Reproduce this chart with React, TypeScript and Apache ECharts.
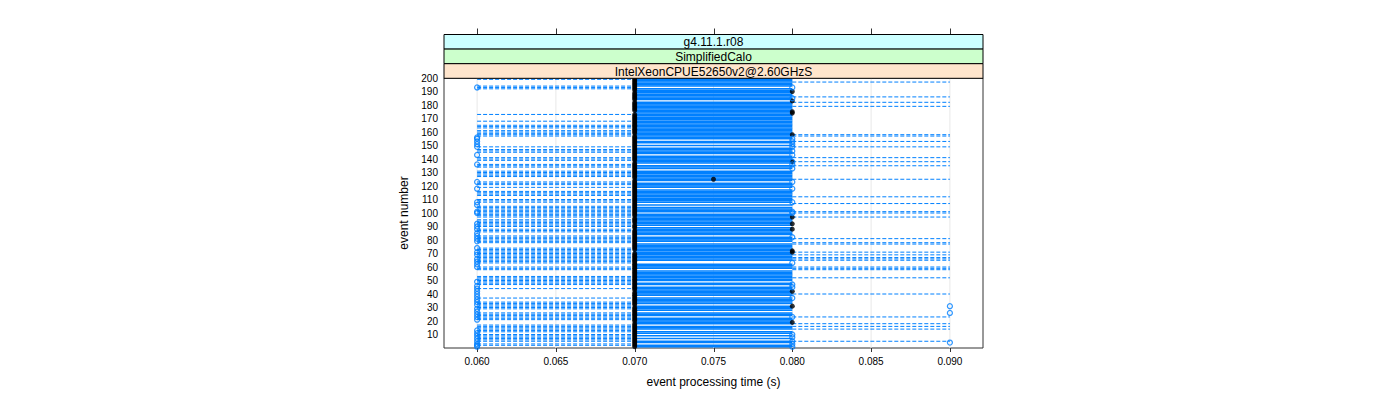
import React, { useEffect, useRef } from "react";
import * as echarts from "echarts";

// ---- data ----
const stripLabels = ["g4.11.1.r08", "SimplifiedCalo", "IntelXeonCPUE52650v2@2.60GHzS"];
const stripColors = ["#ccffff", "#ccffcc", "#ffe5cc"];
const xTicks = [0.06, 0.065, 0.07, 0.075, 0.08, 0.085, 0.09];
const yTicks = [10, 20, 30, 40, 50, 60, 70, 80, 90, 100, 110, 120, 130, 140, 150, 160, 170, 180, 190, 200];
const xMin = 0.0579;
const xMax = 0.0921;
const yMin = 0;
const yMax = 200;

// filled black points, event 1..200
const blackTime = [
  0.07, 0.07, 0.07, 0.07, 0.07, 0.07, 0.07, 0.07, 0.07, 0.07,
  0.07, 0.07, 0.07, 0.07, 0.07, 0.07, 0.07, 0.07, 0.08, 0.07,
  0.07, 0.07, 0.07, 0.07, 0.07, 0.07, 0.07, 0.07, 0.07, 0.07,
  0.08, 0.07, 0.07, 0.07, 0.07, 0.07, 0.07, 0.07, 0.07, 0.07,
  0.07, 0.08, 0.07, 0.07, 0.07, 0.07, 0.07, 0.07, 0.07, 0.07,
  0.07, 0.07, 0.07, 0.07, 0.07, 0.07, 0.07, 0.07, 0.07, 0.07,
  0.07, 0.07, 0.07, 0.07, 0.07, 0.07, 0.07, 0.07, 0.07, 0.07,
  0.08, 0.08, 0.07, 0.07, 0.07, 0.07, 0.07, 0.07, 0.07, 0.07,
  0.07, 0.07, 0.07, 0.07, 0.07, 0.07, 0.07, 0.08, 0.07, 0.07,
  0.07, 0.08, 0.07, 0.07, 0.07, 0.07, 0.08, 0.07, 0.07, 0.07,
  0.07, 0.07, 0.07, 0.07, 0.07, 0.07, 0.07, 0.07, 0.07, 0.07,
  0.07, 0.07, 0.07, 0.07, 0.07, 0.07, 0.07, 0.07, 0.07, 0.07,
  0.07, 0.07, 0.07, 0.07, 0.075, 0.07, 0.07, 0.07, 0.07, 0.07,
  0.07, 0.07, 0.07, 0.07, 0.07, 0.07, 0.07, 0.08, 0.07, 0.07,
  0.07, 0.07, 0.07, 0.07, 0.07, 0.07, 0.07, 0.07, 0.07, 0.07,
  0.07, 0.07, 0.07, 0.07, 0.07, 0.07, 0.07, 0.08, 0.07, 0.07,
  0.07, 0.07, 0.07, 0.07, 0.07, 0.07, 0.07, 0.07, 0.07, 0.07,
  0.07, 0.07, 0.07, 0.08, 0.08, 0.07, 0.07, 0.07, 0.07, 0.07,
  0.07, 0.07, 0.08, 0.07, 0.07, 0.07, 0.07, 0.07, 0.07, 0.08,
  0.07, 0.07, 0.07, 0.07, 0.07, 0.07, 0.07, 0.07, 0.07, 0.07,
];

// open blue circles (event numbers) at each time value
const circle060Events = [1, 2, 3, 5, 7, 9, 11, 13, 21, 23, 25, 27, 29, 32, 34, 36, 38, 40, 42, 44, 46, 49,
  60, 62, 64, 66, 69, 71, 74, 79, 81, 83, 85, 88, 90, 92, 100, 101, 106, 108, 118, 123, 136, 143,
  149, 151, 153, 155, 156, 193];
const circle080Events = [1, 3, 5, 8, 10, 23, 37, 45, 47, 63, 82, 100, 101, 108, 118, 123, 133, 136, 138,
  143, 146, 149, 151, 153, 155, 185, 193];
const circle090Events = [4, 26, 31];

// dashed segments 0.060 - 0.070
const leftDashEvents = [2, 3, 5, 6, 7, 8, 9, 10, 12, 13, 14, 15, 16, 17, 21, 22, 23, 24, 25, 26, 29, 30, 31,
  32, 33, 34, 37, 44, 47, 48, 49, 50, 51, 52, 53, 58, 59, 60, 63, 64, 65, 66, 67, 68, 69, 70, 71, 72, 73,
  74, 78, 79, 80, 81, 82, 83, 86, 87, 88, 90, 91, 92, 93, 94, 95, 97, 98, 99, 100, 101, 102, 103, 104, 105,
  108, 109, 110, 113, 114, 115, 116, 119, 121, 122, 123, 127, 128, 129, 130, 131, 134, 135, 136, 139, 140,
  141, 145, 146, 147, 149, 157, 158, 159, 160, 161, 163, 164, 165, 168, 173, 192, 193, 194, 199];
const leftDashRange = [0.06, 0.07];

// dashed segments 0.080 - 0.090
const rightDashEvents = [5, 14, 16, 18, 23, 40, 52, 58, 59, 60, 65, 66, 67, 69, 71, 77, 78, 81, 97, 100, 101,
  107, 112, 125, 135, 138, 141, 149, 153, 157, 158, 179, 182, 186, 197];
const rightDashRange = [0.08, 0.09];

// events without the solid 0.070 - 0.080 segment
const noSolidEvents = [3, 6, 8, 10, 13, 17, 23, 27, 32, 38, 46, 49, 58, 63, 64, 78, 83, 90,
  100, 105, 107, 118, 123, 132, 136, 143, 149, 151, 154, 183, 193];
const solidRange = [0.07, 0.08];

const BLUE = "#0080ff";
const FONT = "Liberation Sans";

export default function App() {
  const ref = useRef<HTMLDivElement>(null);

  useEffect(() => {
    if (!ref.current) return;
    const chart = echarts.init(ref.current, undefined, { renderer: "svg" });

    const allEvents = blackTime.map((_, i) => i + 1);
    const seg = (events: number[], r: number[]) => events.map((e) => [r[0], r[1], e]);
    const leftData = seg(leftDashEvents, leftDashRange);
    const rightData = seg(rightDashEvents, rightDashRange);
    const solidData = seg(allEvents.filter((e) => noSolidEvents.indexOf(e) < 0), solidRange);
    const gridData = xTicks.map((t) => [t, t, yMin, yMax]);

    const L = 444, R = 983;
    const panelTop = 78;
    const stripTop = 34.5, stripH = 14.6;

    const segRender = (dash: number[] | null, w: number) => (params: any, api: any) => {
      const p1 = api.coord([api.value(0), api.value(2)]);
      const p2 = api.coord([api.value(1), api.value(2)]);
      return {
        type: "line",
        shape: { x1: p1[0], y1: p1[1], x2: p2[0], y2: p2[1] },
        style: { stroke: BLUE, lineWidth: w, lineDash: dash || undefined, fill: null },
      };
    };

    const graphics: any[] = [];
    stripLabels.forEach((lab, i) => {
      const y = stripTop + i * stripH;
      graphics.push({
        type: "rect",
        shape: { x: L, y, width: R - L, height: stripH },
        style: { fill: stripColors[i], stroke: "#000", lineWidth: 1 },
        z: 10,
      });
      graphics.push({
        type: "text",
        x: (L + R) / 2,
        y: y + stripH / 2 + 0.5,
        style: { text: lab, fill: "#000", font: `12px ${FONT}`, align: "center", verticalAlign: "middle" },
        z: 11,
      });
    });

    chart.setOption({
      animation: false,
      textStyle: { fontFamily: FONT },
      graphic: graphics,
      grid: [
        { left: L, right: 1400 - R, top: panelTop, bottom: 52, show: true, borderColor: "#333", borderWidth: 1, backgroundColor: "#fff" },
      ],
      xAxis: [
        {
          type: "value",
          min: xMin,
          max: xMax,
          name: "event processing time (s)",
          nameLocation: "middle",
          nameGap: 28,
          nameTextStyle: { fontSize: 12, color: "#000", fontFamily: FONT },
          axisLine: { show: false },
          axisTick: { show: false },
          axisLabel: {
            customValues: xTicks,
            formatter: (v: number) => v.toFixed(3),
            fontSize: 10,
            color: "#000",
            margin: 8,
            fontFamily: FONT,
          },
          splitLine: { show: false },
        },
      ],
      yAxis: [
        {
          type: "value",
          min: yMin,
          max: yMax,
          interval: 10,
          name: "event number",
          nameLocation: "middle",
          nameRotate: 90,
          nameGap: 34,
          nameTextStyle: { fontSize: 12, color: "#000", fontFamily: FONT },
          axisLine: { show: false },
          axisTick: { show: false },
          axisLabel: {
            customValues: yTicks,
            fontSize: 10,
            color: "#000",
            margin: 6,
            fontFamily: FONT,
          },
          splitLine: { show: false },
        },
      ],
      series: [
        {
          type: "custom",
          data: gridData,
          encode: { x: [0, 1], y: [2, 3] },
          renderItem: (params: any, api: any) => {
            const p1 = api.coord([api.value(0), api.value(2)]);
            const p2 = api.coord([api.value(1), api.value(3)]);
            return {
              type: "line",
              shape: { x1: p1[0], y1: p1[1], x2: p2[0], y2: p2[1] },
              style: { stroke: "#e8e8e8", lineWidth: 1 },
            };
          },
          silent: true,
          z: 1,
        },
        {
          // tick marks: below the panel and above the strips
          type: "custom",
          data: xTicks.map((t) => [t, yMin, yMax]),
          encode: { x: 0, y: [1, 2] },
          clip: false,
          renderItem: (params: any, api: any) => {
            const pb = api.coord([api.value(0), api.value(1)]);
            const pt = api.coord([api.value(0), api.value(2)]);
            const x = Math.round(pb[0]) + 0.5;
            const topY = pt[1] - (panelTop - stripTop);
            return {
              type: "group",
              children: [
                { type: "line", shape: { x1: x, y1: pb[1], x2: x, y2: pb[1] + 4 }, style: { stroke: "#333", lineWidth: 1 } },
                { type: "line", shape: { x1: x, y1: topY, x2: x, y2: topY - 6 }, style: { stroke: "#333", lineWidth: 1 } },
              ],
            };
          },
          silent: true,
          z: 1,
        },
        {
          type: "custom",
          data: leftData,
          encode: { x: [0, 1], y: 2 },
          renderItem: segRender([4, 2], 1),
          silent: true,
          z: 2,
        },
        {
          type: "custom",
          data: rightData,
          encode: { x: [0, 1], y: 2 },
          renderItem: segRender([4, 2], 1),
          silent: true,
          z: 2,
        },
        {
          type: "custom",
          data: solidData,
          encode: { x: [0, 1], y: 2 },
          renderItem: segRender(null, 1.5),
          silent: true,
          z: 3,
        },
        {
          type: "scatter",
          data: blackTime.map((t, i) => [t, i + 1]),
          symbol: "circle",
          symbolSize: 5,
          itemStyle: { color: "#000" },
          silent: true,
          z: 4,
        },
        {
          type: "scatter",
          data: [
            ...circle060Events.map((e) => [0.06, e]),
            ...circle080Events.map((e) => [0.08, e]),
            ...circle090Events.map((e) => [0.09, e]),
          ],
          symbol: "circle",
          symbolSize: 5,
          itemStyle: { color: "rgba(255,255,255,0)", borderColor: BLUE, borderWidth: 1.3 },
          silent: true,
          z: 5,
        },
      ],
    });

    return () => chart.dispose();
  }, []);

  return (
    <div
      ref={ref}
      style={{ position: "fixed", left: 0, top: 0, width: 1400, height: 400, background: "#fff" }}
    />
  );
}
